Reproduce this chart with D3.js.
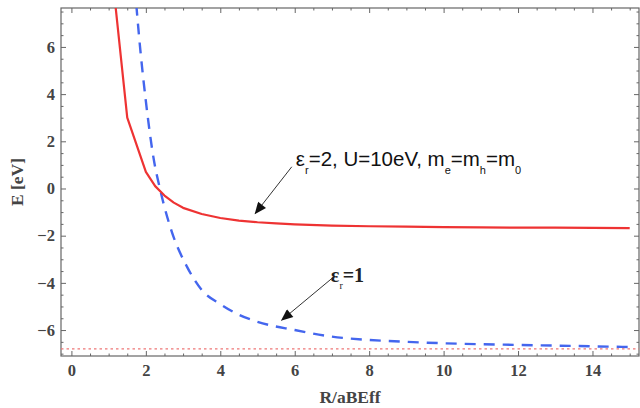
<!DOCTYPE html>
<html><head><meta charset="utf-8">
<script src="https://cdn.jsdelivr.net/npm/d3@7"></script>
<style>
html,body{margin:0;padding:0;background:#fff;}
svg{display:block;}
</style></head>
<body>
<svg id="chart" width="640" height="408"></svg>
<script>
// ---- data ----
const redR = [1.0, 1.5, 2.0, 2.25, 2.5, 2.75, 3.0, 3.5, 4.0, 4.5, 5.0, 5.5, 6.0, 7.0, 8.0, 9.0, 10.0, 11.0, 12.0, 13.0, 14.0, 15.0];
const redE = [10.5, 3.0, 0.7, 0.1, -0.3, -0.6, -0.82, -1.08, -1.25, -1.36, -1.43, -1.48, -1.52, -1.57, -1.6, -1.62, -1.64, -1.65, -1.66, -1.66, -1.67, -1.68];
const blueR = [1.7, 1.85, 2.0, 2.2, 2.4, 2.7, 3.1, 3.5, 4.0, 4.5, 5.0, 6.0, 7.0, 8.0, 9.0, 10.0, 11.0, 12.0, 13.0, 14.0, 15.0];
const blueE = [8.6, 5.9, 3.7, 1.35, -0.15, -1.85, -3.3, -4.3, -4.9, -5.35, -5.65, -6.0, -6.28, -6.42, -6.5, -6.56, -6.6, -6.63, -6.66, -6.69, -6.72];
const limitE = -6.8;
const xTicks = [0, 2, 4, 6, 8, 10, 12, 14];
const yTicks = [-6, -4, -2, 0, 2, 4, 6];
const xLabel = "R/aBEff";
const yLabel = "E [eV]";

// ---- layout ----
const svg = d3.select("#chart");
const L = 61, R = 639, T = 8, B = 356;
const x = d3.scaleLinear().domain([-0.28, 15.25]).range([L, R]);
const y = d3.scaleLinear().domain([-7.1, 7.65]).range([B, T]);
const frameCol = "#666";
const serif = "'Liberation Serif', 'DejaVu Serif', serif";

svg.append("defs").append("clipPath").attr("id", "clip")
  .append("rect").attr("x", L).attr("y", T).attr("width", R - L).attr("height", B - T);

const minorX = d3.range(0, 15.01, 0.5).filter(v => xTicks.indexOf(v) < 0);
const minorY = d3.range(-7.0, 7.51, 0.5).filter(v => yTicks.indexOf(v) < 0);

function styleAxis(g) {
  g.select(".domain").remove();
  g.selectAll(".tick line").attr("stroke", frameCol).attr("stroke-width", 1);
  g.selectAll("text").attr("font-family", serif).attr("font-size", 16.5)
    .attr("font-weight", "bold").attr("fill", "#444");
}

// major axes
svg.append("g").attr("transform", `translate(0,${B})`)
  .call(d3.axisBottom(x).tickValues(xTicks).tickSize(-5).tickPadding(8).tickFormat(d3.format("d")))
  .call(styleAxis);
svg.append("g").attr("transform", `translate(${L},0)`)
  .call(d3.axisLeft(y).tickValues(yTicks).tickSize(-5).tickPadding(6).tickFormat(d3.format("d")))
  .call(styleAxis);
svg.append("g").attr("transform", `translate(0,${T})`)
  .call(d3.axisTop(x).tickValues(xTicks).tickSize(-5).tickFormat(""))
  .call(styleAxis);
svg.append("g").attr("transform", `translate(${R},0)`)
  .call(d3.axisRight(y).tickValues(yTicks).tickSize(-5).tickFormat(""))
  .call(styleAxis);
// minor
svg.append("g").attr("transform", `translate(0,${B})`)
  .call(d3.axisBottom(x).tickValues(minorX).tickSize(-2.5).tickFormat("")).call(styleAxis);
svg.append("g").attr("transform", `translate(0,${T})`)
  .call(d3.axisTop(x).tickValues(minorX).tickSize(-2.5).tickFormat("")).call(styleAxis);
svg.append("g").attr("transform", `translate(${L},0)`)
  .call(d3.axisLeft(y).tickValues(minorY).tickSize(-2.5).tickFormat("")).call(styleAxis);
svg.append("g").attr("transform", `translate(${R},0)`)
  .call(d3.axisRight(y).tickValues(minorY).tickSize(-2.5).tickFormat("")).call(styleAxis);

// frame
svg.append("rect").attr("x", L).attr("y", T).attr("width", R - L).attr("height", B - T)
  .attr("fill", "none").attr("stroke", frameCol).attr("stroke-width", 1.2);

// axis titles
svg.append("text").attr("x", (L + R) / 2).attr("y", 403).attr("text-anchor", "middle")
  .attr("font-family", serif).attr("font-size", 17.5).attr("font-weight", "bold").attr("fill", "#444")
  .text(xLabel);
svg.append("text").attr("transform", `translate(23,${(T + B) / 2}) rotate(-90)`)
  .attr("text-anchor", "middle")
  .attr("font-family", serif).attr("font-size", 17.5).attr("font-weight", "bold").attr("fill", "#444")
  .text(yLabel);

// curves
const plot = svg.append("g").attr("clip-path", "url(#clip)");
plot.append("line")
  .attr("x1", x(-0.28)).attr("x2", x(15.25)).attr("y1", y(limitE)).attr("y2", y(limitE))
  .attr("stroke", "#ee7777").attr("stroke-width", 1.4).attr("stroke-dasharray", "2.5,3");

const redPts = redR.map((r, i) => [r, redE[i]]);
const bluePts = blueR.map((r, i) => [r, blueE[i]]);
plot.append("path").datum(bluePts)
  .attr("d", d3.line().x(d => x(d[0])).y(d => y(d[1])).curve(d3.curveMonotoneX))
  .attr("fill", "none").attr("stroke", "#4466ee").attr("stroke-width", 2.4)
  .attr("stroke-dasharray", "11,8");
plot.append("path").datum(redPts)
  .attr("d", d3.line().x(d => x(d[0])).y(d => y(d[1])).curve(d3.curveLinear))
  .attr("fill", "none").attr("stroke", "#ee3333").attr("stroke-width", 2.2)
  .attr("stroke-linejoin", "round");

// arrows
svg.select("defs").append("marker").attr("id", "arr")
  .attr("viewBox", "0 0 12 10").attr("refX", 11).attr("refY", 5)
  .attr("markerWidth", 13).attr("markerHeight", 10).attr("markerUnits", "userSpaceOnUse")
  .attr("orient", "auto")
  .append("path").attr("d", "M0,0 L12,5 L0,10 Z").attr("fill", "#111");

const arrows = [
  {from: [5.92, 0.92], to: [4.94, -1.06]},
  {from: [7.0, -3.81], to: [5.65, -5.58]}
];
arrows.forEach(a => {
  svg.append("line")
    .attr("x1", x(a.from[0])).attr("y1", y(a.from[1]))
    .attr("x2", x(a.to[0])).attr("y2", y(a.to[1]))
    .attr("stroke", "#333").attr("stroke-width", 1)
    .attr("marker-end", "url(#arr)");
});

// annotation 1
const t1 = svg.append("text").attr("x", x(6.03)).attr("y", y(0.95))
  .attr("font-family", "'Liberation Sans', Arial, sans-serif").attr("font-size", 20.5).attr("fill", "#111");
t1.append("tspan").text("ε");
t1.append("tspan").attr("dy", 8).attr("font-size", 11).text("r");
t1.append("tspan").attr("dy", -8).text("=2, U=10eV, m");
t1.append("tspan").attr("dy", 8).attr("font-size", 11).text("e");
t1.append("tspan").attr("dy", -8).text("=m");
t1.append("tspan").attr("dy", 8).attr("font-size", 11).text("h");
t1.append("tspan").attr("dy", -8).text("=m");
t1.append("tspan").attr("dy", 8).attr("font-size", 11).text("0");

// annotation 2
const t2 = svg.append("text").attr("x", x(6.97)).attr("y", y(-3.95))
  .attr("font-family", serif).attr("font-size", 20).attr("font-weight", "bold").attr("fill", "#222");
t2.append("tspan").text("ε");
t2.append("tspan").attr("dy", 7).attr("font-size", 10).attr("font-weight", "normal").text("r");
t2.append("tspan").attr("dy", -7).text("=1");
</script>
</body></html>
